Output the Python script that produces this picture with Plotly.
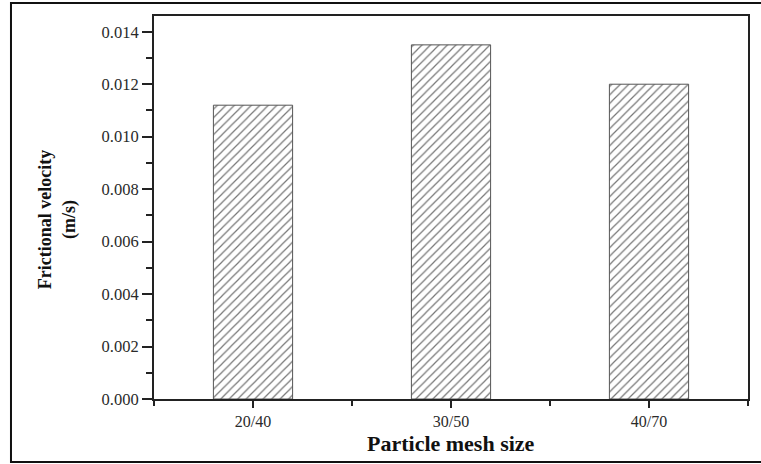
import plotly.graph_objects as go

# Particle mesh size vs. frictional velocity
mesh_sizes = ["20/40", "30/50", "40/70"]
frictional_velocity = [0.0112, 0.0135, 0.0120]  # m/s

y_ticks = [0.000, 0.002, 0.004, 0.006, 0.008, 0.010, 0.012, 0.014]
y_tick_labels = [f"{v:.3f}" for v in y_ticks]

positions = list(range(len(mesh_sizes)))

FONT = "Liberation Serif, Times New Roman, serif"
AXIS = "#222222"

fig = go.Figure()
fig.add_trace(go.Bar(
    x=positions,
    y=frictional_velocity,
    width=0.4,
    marker=dict(
        color="white",
        line=dict(color="#555555", width=1),
        pattern=dict(shape="/", fgcolor="#777777", bgcolor="white",
                     size=6, solidity=0.2, fillmode="replace"),
    ),
    showlegend=False,
))

fig.update_layout(
    width=761, height=464,
    margin=dict(l=154, r=11, t=16, b=65),
    paper_bgcolor="white",
    plot_bgcolor="white",
    font=dict(family=FONT, color="#2a2a2a", size=15),
)

fig.update_xaxes(
    range=[-0.5, 2.5],
    tickmode="array", tickvals=positions, ticktext=mesh_sizes,
    ticks="outside", ticklen=7, tickwidth=1.5, tickcolor=AXIS,
    minor=dict(tickmode="linear", tick0=-0.5, dtick=0.5, ticks="outside",
               ticklen=5, tickwidth=1.5, tickcolor=AXIS),
    showline=True, linecolor=AXIS, linewidth=2, mirror=True,
    showgrid=False, zeroline=False,
    tickfont=dict(family=FONT, size=16),
)
fig.update_yaxes(
    range=[0, 0.0146],
    tickmode="array", tickvals=y_ticks, ticktext=y_tick_labels,
    ticks="outside", ticklen=10, tickwidth=1.5, tickcolor=AXIS,
    minor=dict(tickmode="linear", tick0=0, dtick=0.001, ticks="outside",
               ticklen=6, tickwidth=1.5, tickcolor=AXIS),
    showline=True, linecolor=AXIS, linewidth=2, mirror=True,
    showgrid=False, zeroline=False,
    tickfont=dict(family=FONT, size=16.5),
)

# Axis titles
fig.add_annotation(
    text="<b>Particle mesh size</b>", xref="paper", yref="paper",
    x=0.5, y=-0.115, showarrow=False, yanchor="middle",
    font=dict(family=FONT, size=22, color="#111111"),
)
fig.add_annotation(
    text="<b>Frictional velocity</b><br><b>(m/s)</b>", xref="paper", yref="paper",
    x=(57 - 154) / 596, y=(399 - 220) / 383, showarrow=False, textangle=-90,
    xanchor="center", yanchor="middle",
    font=dict(family=FONT, size=18, color="#111111"),
)

# Frame around the whole figure
fig.add_shape(
    type="rect", xref="paper", yref="paper",
    x0=(10.5 - 154) / 596, x1=(775 - 154) / 596,
    y0=(399 - 462) / 383, y1=(399 - 3) / 383,
    line=dict(color="#111111", width=2), fillcolor="rgba(0,0,0,0)",
    layer="above",
)

fig.write_html("out.html")
